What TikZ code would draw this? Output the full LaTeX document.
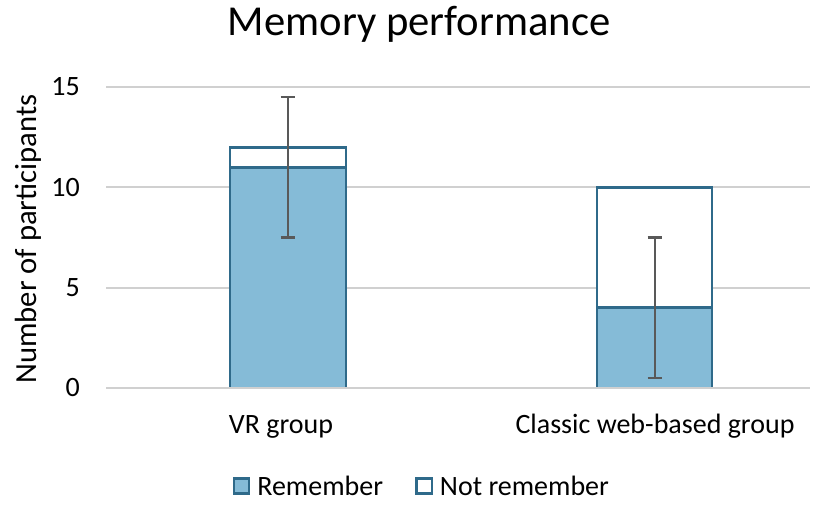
\documentclass[tikz,border=0pt]{standalone}
\usepackage{fontspec}
\setmainfont{Carlito}
\usetikzlibrary{positioning}

\definecolor{barfill}{HTML}{85BBD7}
\definecolor{baredge}{HTML}{2F6A8A}
\definecolor{gridgray}{HTML}{D0D0D0}
\definecolor{errgray}{HTML}{595959}

\begin{document}
\begin{tikzpicture}[x=0.75pt,y=0.75pt,
    gridline/.style={gridgray,line width=1.6pt},
    remember/.style={draw=baredge,fill=barfill,line width=2.2pt},
    notremember/.style={draw=baredge,fill=white,line width=2.2pt},
    errbar/.style={errgray,line width=2.2pt},
    ticklabel/.style={anchor=east,inner sep=0pt,font=\fontsize{21}{25}\selectfont},
    catlabel/.style={anchor=base,inner sep=0pt,font=\fontsize{21}{25}\selectfont},
    swatch/.style={draw=baredge,line width=1.8pt,minimum size=11.5pt,inner sep=0pt},
    legendtext/.style={inner sep=0pt,font=\fontsize{21}{25}\selectfont}]
    \useasboundingbox (0,0) rectangle (830,504);

    % Title and axis title
    \node[anchor=base,font=\fontsize{32}{38}\selectfont] (title) at (419,468) {Memory performance};
    \node[rotate=90,font=\fontsize{23}{28}\selectfont] (ylabel) at (28,265) {Number of participants};

    \begin{scope}[shift={(0,116)},y=15.05pt]
        % Grid lines and tick labels
        \foreach \v in {5,10,15} {
            \draw[gridline] (106,\v) -- (810,\v);
        }
        \foreach \v in {0,5,10,15} {
            \node[ticklabel] (tick\v) at (80,\v) {\v};
        }

        % VR group bar
        \draw[remember] (230,0) rectangle (346,11);
        \draw[notremember] (230,11) rectangle (346,12);

        % Classic web-based group bar
        \draw[remember] (597,0) rectangle (712,4);
        \draw[notremember] (597,4) rectangle (712,10);

        % Axis line
        \draw[gridline] (106,0) -- (810,0);

        % Error bars
        \coordinate (vrHi) at (288,14.5);
        \coordinate (vrLo) at (288,7.5);
        \coordinate (webHi) at (655,7.5);
        \coordinate (webLo) at (655,0.5);
        \draw[errbar] (vrLo) -- (vrHi);
        \draw[errbar] ([xshift=-5.5pt]vrHi) -- ([xshift=5.5pt]vrHi);
        \draw[errbar] ([xshift=-5.5pt]vrLo) -- ([xshift=5.5pt]vrLo);
        \draw[errbar] (webLo) -- (webHi);
        \draw[errbar] ([xshift=-5.5pt]webHi) -- ([xshift=5.5pt]webHi);
        \draw[errbar] ([xshift=-5.5pt]webLo) -- ([xshift=5.5pt]webLo);
    \end{scope}

    % Category labels
    \node[catlabel] (vrLabel) at (281,71) {VR group};
    \node[catlabel] (webLabel) at (655,71) {Classic web-based group};

    % Legend
    \node[swatch,fill=barfill] (remSwatch) at (241.5,18) {};
    \node[legendtext,anchor=west,right=5pt of remSwatch] (remText) {Remember};
    \node[swatch,fill=white,right=24pt of remText] (notSwatch) {};
    \node[legendtext,anchor=west,right=5pt of notSwatch] (notText) {Not remember};
\end{tikzpicture}
\end{document}
